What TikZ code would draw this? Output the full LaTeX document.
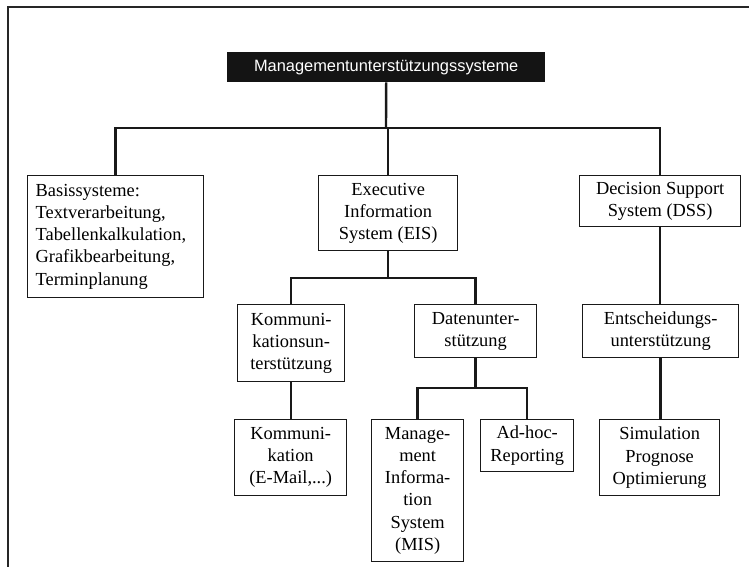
\documentclass[tikz,border=0pt]{standalone}
\usepackage{fontspec}
\setmainfont{Liberation Serif}
\newfontfamily\titlefont{Liberation Sans}
\begin{document}
\begin{tikzpicture}[x=1pt,y=-1pt,
  box/.style={draw=black!90, line width=1.3pt, anchor=north west, align=center,
    inner xsep=1pt, inner ysep=0pt, font=\fontsize{18.4}{22.2}\selectfont},
  conn/.style={draw=black!90, line width=2.4pt},
  frame/.style={draw=black!85, line width=1.8pt}]
\useasboundingbox (0,0) rectangle (749,567);
\draw[frame] (749,7) -- (8,7) -- (8,567);
\node[anchor=north west, fill=black!92, text=white, minimum width=318pt, minimum height=30pt,
  inner sep=0pt, font=\titlefont\fontsize{16.4}{20}\selectfont] (title) at (227,52)
  {Managementunterstützungssysteme};
\node[box, minimum width=176pt, minimum height=122pt, align=left, inner xsep=8pt, text width=160pt] (basis) at (27,175)
  {Basissysteme:\\Textverarbeitung,\\Tabellenkalkulation,\\Grafikbearbeitung,\\Terminplanung};
\node[box, minimum width=139pt, minimum height=75pt] (eis) at (318,175) {Executive\\Information\\System (EIS)};
\node[box, minimum width=161pt, minimum height=51pt] (dss) at (579,175) {Decision Support\\System (DSS)};
\node[box, minimum width=107pt, minimum height=77pt] (komm1) at (237,304) {Kommuni-\\kationsun-\\terstützung};
\node[box, minimum width=122pt, minimum height=53pt] (daten) at (414,304) {Datenunter-\\stützung};
\node[box, minimum width=156pt, minimum height=53pt] (entsch) at (582,304) {Entscheidungs-\\unterstützung};
\node[box, minimum width=112pt, minimum height=76pt] (komm2) at (234,419) {Kommuni-\\kation\\(E-Mail,...)};
\node[box, minimum width=92pt, minimum height=142pt] (mis) at (371,419) {Manage-\\ment\\Informa-\\tion\\System\\(MIS)};
\node[box, minimum width=93pt, minimum height=52pt] (adhoc) at (480,419) {Ad-hoc-\\Reporting};
\node[box, minimum width=120pt, minimum height=76pt] (sim) at (599,419) {Simulation\\Prognose\\Optimierung};
\coordinate (b1) at (386,128);
\coordinate (b2) at (387,278);
\coordinate (b3) at (475,388);
\draw[conn] (basis.north) |- (b1) -| (dss.north);
\draw[conn] (title.south) -- (b1);
\draw[conn] (eis.north) -- (eis.north |- b1);
\draw[conn] (komm1.north) |- (b2) -| (daten.north);
\draw[conn] (eis.south) -- (eis.south |- b2);
\draw[conn] (komm1.south) -- (komm1.south |- komm2.north);
\draw[conn] (mis.north) |- (b3) -| (adhoc.north);
\draw[conn] (daten.south) -- (daten.south |- b3);
\draw[conn] (dss.south) -- (dss.south |- entsch.north);
\draw[conn] (entsch.south) -- (entsch.south |- sim.north);
\end{tikzpicture}
\end{document}
